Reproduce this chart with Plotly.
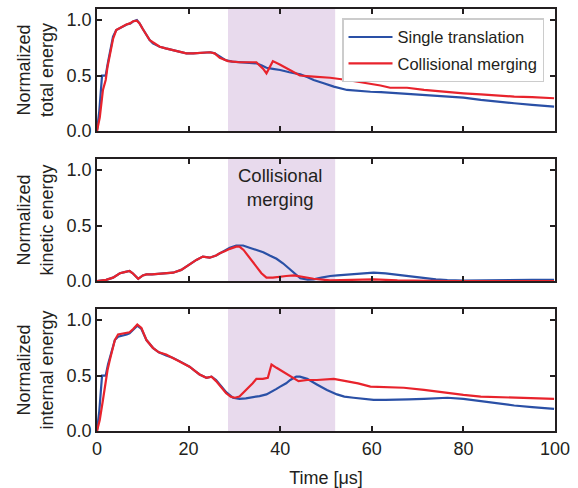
import plotly.graph_objects as go
from plotly.subplots import make_subplots

# ---------------- data ----------------
t_tot_single = [0,0.5,1.1,1.9,2.4,2.9,3.5,4.2,5,5.7,6.5,7.3,8,8.7,9.3,10,10.8,11.5,12.2,13.7,15,16.6,18,19.5,21,22.5,23.9,24.8,25.7,26.8,28,29.5,31,33,34.8,36,37,38.4,40,42,44.4,46,47.3,49.5,51.7,54.6,57,59.7,62,65.6,68,71.4,74,76.5,80,83.8,87,91.1,95,99.8]
tot_single = [0,0.18,0.5,0.5,0.62,0.74,0.85,0.91,0.93,0.94,0.96,0.97,0.99,1.0,0.97,0.92,0.86,0.82,0.79,0.76,0.745,0.73,0.715,0.70,0.70,0.705,0.71,0.71,0.70,0.67,0.64,0.625,0.62,0.615,0.61,0.59,0.57,0.56,0.55,0.53,0.51,0.485,0.46,0.43,0.40,0.37,0.36,0.354,0.35,0.34,0.335,0.33,0.32,0.31,0.30,0.28,0.265,0.25,0.235,0.22]

t_tot_merge = [0,0.6,1.3,1.9,2.3,2.8,3.5,4.2,5,5.7,6.4,7.2,7.9,8.7,9.3,10,10.8,11.5,12.2,13.7,15,16.6,18,19.5,21,22.5,23.9,24.6,25.7,26.8,28.6,30,31.1,33,34,34.8,35.5,36.3,37,37.7,38.4,39.9,42,44.3,47.3,50.9,54.6,57,59,61.9,64,67.7,71.4,74,76.5,80,83.8,87,91.1,95,99.8]
tot_merge = [0,0.12,0.37,0.46,0.58,0.70,0.83,0.91,0.93,0.95,0.96,0.97,0.99,0.995,0.97,0.92,0.86,0.82,0.80,0.76,0.745,0.73,0.715,0.70,0.70,0.705,0.71,0.71,0.70,0.66,0.63,0.625,0.62,0.62,0.62,0.62,0.59,0.56,0.52,0.58,0.63,0.60,0.55,0.50,0.49,0.48,0.46,0.445,0.43,0.41,0.39,0.39,0.37,0.36,0.35,0.34,0.33,0.32,0.31,0.305,0.295]

t_kin_single = [0,2,3.5,5,6,7.1,7.8,8.4,9,10,10.8,12,13.7,15,16.6,18.4,20.2,21.7,23.1,24.6,26,26.8,28,29,30.4,31.9,33.3,34.8,36.3,37.7,39.2,40.6,42.2,43.5,44.4,46,47.3,49,50.9,52.5,54.6,57,60.4,63,65.6,68,71.4,74,76.5,80,85,91,95,99.8]
kin_single = [0,0.01,0.03,0.07,0.08,0.09,0.07,0.04,0.02,0.05,0.06,0.06,0.065,0.07,0.075,0.10,0.15,0.19,0.22,0.21,0.23,0.25,0.28,0.30,0.32,0.32,0.30,0.28,0.26,0.23,0.20,0.16,0.10,0.05,0.025,0.012,0.015,0.03,0.045,0.05,0.057,0.065,0.075,0.068,0.055,0.04,0.025,0.015,0.008,0.003,0.005,0.01,0.01,0.01]

t_kin_merge = [0,2,3.5,5,6,7.1,7.8,8.4,9,10,10.8,12,13.7,15,16.6,18.4,20.2,21.7,23.1,24.6,26,26.8,28,29,30.4,31.1,32,32.6,33.7,34.8,35.9,37,38.4,40,41.3,43,44.5,46,47.3,50.9,55,60.4,65.6,70,76.5,85,99.8]
kin_merge = [0,0.01,0.03,0.07,0.08,0.09,0.07,0.04,0.02,0.05,0.06,0.06,0.065,0.07,0.075,0.10,0.15,0.19,0.22,0.21,0.23,0.25,0.27,0.29,0.31,0.31,0.28,0.25,0.19,0.13,0.07,0.03,0.03,0.04,0.045,0.05,0.04,0.025,0.02,0.005,0.008,0.015,0.005,0.002,0,0,0]

t_int_single = [0,0.5,1.1,1.9,2.4,2.8,3.4,3.9,4.6,5.7,6.5,7.1,7.9,8.8,9.7,10.8,12.2,13.5,15.1,16.5,18,19,20.2,21.3,22.4,23.9,25,26,27,28.2,29.7,31.1,32.5,34.1,35.5,37,38,39.2,40,41.3,42.2,43.5,44.3,45.9,48,50.2,52.4,54,56,58,60.4,63,65.6,68,71.4,74,76.5,80,83.8,87,91.1,95,99.8]
int_single = [0,0.18,0.5,0.5,0.6,0.66,0.76,0.82,0.85,0.86,0.87,0.88,0.91,0.95,0.92,0.82,0.75,0.71,0.68,0.66,0.63,0.61,0.58,0.545,0.51,0.48,0.49,0.46,0.41,0.35,0.30,0.29,0.295,0.305,0.315,0.33,0.35,0.38,0.40,0.43,0.46,0.49,0.49,0.47,0.42,0.37,0.33,0.31,0.30,0.29,0.28,0.28,0.28,0.285,0.29,0.295,0.30,0.29,0.27,0.25,0.23,0.215,0.20]

t_int_merge = [0,0.6,1.3,1.9,2.3,2.8,3.4,3.9,4.6,5.7,6.5,7.1,7.9,8.8,9.7,10.8,12.2,13.5,15.1,16.5,18,19,20.2,21.3,22.4,23.9,25,26,27,28.2,29.2,30.1,31.1,32.6,34,34.8,36.2,37.3,38.1,39.2,40,41.3,42.2,44,45.9,48,51.7,54.6,57,59.7,62,64,67,71.4,74,76.5,80,83.8,87,91.1,95,99.8]
int_merge = [0,0.1,0.28,0.46,0.55,0.64,0.75,0.82,0.87,0.88,0.885,0.89,0.92,0.96,0.93,0.82,0.75,0.71,0.69,0.66,0.63,0.61,0.58,0.545,0.51,0.48,0.49,0.45,0.40,0.34,0.31,0.30,0.31,0.37,0.43,0.47,0.47,0.48,0.60,0.57,0.55,0.51,0.49,0.45,0.46,0.46,0.47,0.45,0.43,0.40,0.395,0.39,0.39,0.37,0.355,0.34,0.325,0.31,0.305,0.30,0.295,0.29]

merge_window = [28.6, 52.0]
series_names = ["Single translation", "Collisional merging"]
y_titles = ["Normalized<br>total energy", "Normalized<br>kinetic energy", "Normalized<br>internal energy"]
x_ticks = [0, 20, 40, 60, 80, 100]
y_ticks = [0.0, 0.5, 1.0]

# ---------------- styles ----------------
BLUE = "#2a50a6"
RED = "#e8232c"
SHADE = "#e8daed"
INK = "#231f20"
FONT = "Arial, Liberation Sans, sans-serif"

fig = make_subplots(rows=3, cols=1, shared_xaxes=False, vertical_spacing=0.0664)

panels = [
    (t_tot_single, tot_single, t_tot_merge, tot_merge),
    (t_kin_single, kin_single, t_kin_merge, kin_merge),
    (t_int_single, int_single, t_int_merge, int_merge),
]
for i, (ts, ys, tm, ym) in enumerate(panels, start=1):
    fig.add_trace(go.Scatter(x=ts, y=ys, mode="lines", name=series_names[0], legendgroup="a",
                             line=dict(color=BLUE, width=2.2), showlegend=(i == 1)), row=i, col=1)
    fig.add_trace(go.Scatter(x=tm, y=ym, mode="lines", name=series_names[1], legendgroup="b",
                             line=dict(color=RED, width=2.2), showlegend=(i == 1)), row=i, col=1)
    xref = "x" if i == 1 else f"x{i}"
    yref = "y domain" if i == 1 else f"y{i} domain"
    fig.add_shape(type="rect", xref=xref, yref=yref, x0=merge_window[0], x1=merge_window[1],
                  y0=0, y1=1, fillcolor=SHADE, line_width=0, layer="below")
    fig.update_yaxes(row=i, col=1, range=[0, 1.1], tickvals=y_ticks, tickformat=".1f",
                     automargin=False,
                     title=dict(text=y_titles[i - 1], standoff=8, font=dict(size=18, color=INK, family=FONT)))
    fig.update_xaxes(row=i, col=1, range=[0, 100], tickvals=x_ticks, automargin=False,
                     showticklabels=(i == 3))

fig.update_xaxes(title=dict(text="Time [μs]", standoff=16, font=dict(size=18, color=INK, family=FONT)), row=3, col=1)

axis_style = dict(showline=True, linecolor=INK, linewidth=1.8, mirror="ticks", ticks="inside",
                  ticklen=5, tickwidth=1.8, tickcolor=INK, showgrid=False, zeroline=False,
                  tickfont=dict(size=18, color=INK, family=FONT))
fig.update_xaxes(**axis_style)
fig.update_yaxes(**axis_style)

fig.add_annotation(xref="x2", yref="y2", x=40, y=0.84, text="Collisional<br>merging",
                   showarrow=False, font=dict(size=18.5, color=INK, family=FONT), align="center")

fig.update_layout(
    width=578, height=488,
    margin=dict(l=97, r=23, t=9, b=57),
    plot_bgcolor="white", paper_bgcolor="white",
    font=dict(family=FONT, color=INK),
    legend=dict(x=0.976, y=0.978, xanchor="right", yanchor="top",
                bgcolor="white", bordercolor="#cccccc", borderwidth=1.5,
                font=dict(size=16.5, color=INK, family=FONT), itemwidth=44,
                tracegroupgap=2),
)

fig.write_html("out.html")
